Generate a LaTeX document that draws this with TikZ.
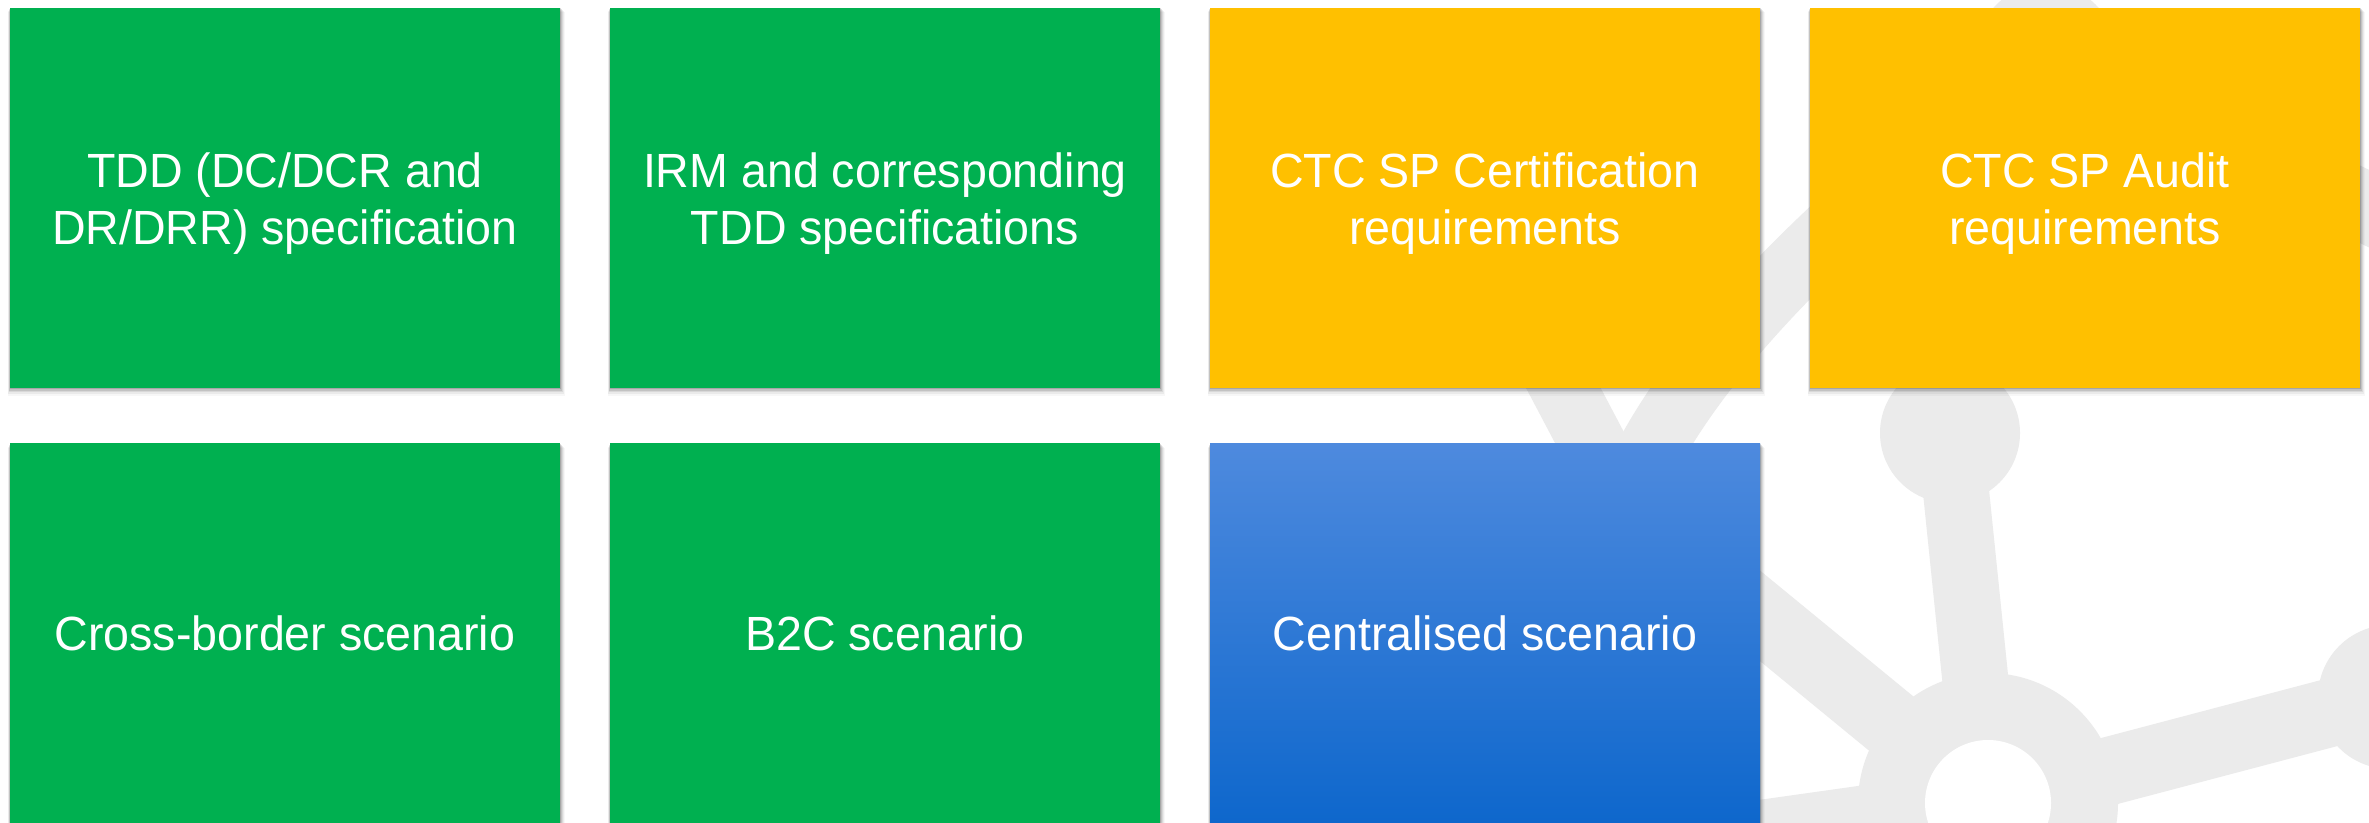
\documentclass[tikz,border=0pt]{standalone}
\usepackage{fontspec}
\newfontfamily\boxfont[FakeStretch=0.97]{Liberation Sans}
\definecolor{boxgreen}{RGB}{0,176,80}
\definecolor{boxyellow}{RGB}{255,192,0}
\definecolor{blueTop}{RGB}{78,138,222}
\definecolor{blueMid}{RGB}{30,122,224}
\definecolor{blueBot}{RGB}{14,103,204}
\definecolor{netgrey}{RGB}{235,235,235}
\newcommand\topstrut{\rule{0pt}{49pt}}
\newcommand\botstrut{\rule[-12pt]{0pt}{12pt}}
\begin{document}
\begin{tikzpicture}[x=1pt,y=-1pt,
  card/.style={rectangle, minimum width=550pt, minimum height=380pt, inner sep=0pt,
    align=center, text=white, font=\boxfont\fontsize{48pt}{56.5pt}\selectfont},
  greencard/.style={card, fill=boxgreen},
  yellowcard/.style={card, fill=boxyellow},
  bluecard/.style={card, top color=blueTop, middle color=blueMid, bottom color=blueBot},
  net/.style={draw=netgrey, line width=66pt},
  netnode/.style={fill=netgrey}]
\useasboundingbox (0,0) rectangle (2369,822);
\clip (0,0) rectangle (2369,822);
\fill[white] (0,0) rectangle (2369,822);

% background network graphic
\coordinate (hub) at (1988,803);
\coordinate (nup) at (1950,433);
\coordinate (nright) at (2390,697);
\coordinate (nmid) at (1625,505);
\coordinate (ntop) at (2046,54);
\coordinate (aend) at (1430,135);
\coordinate (rend) at (2470,257);
\coordinate (lend) at (1300,900);
\draw[net] (hub) -- (nup);
\draw[net, line width=68pt] (hub) -- (nright);
\draw[net, line width=70pt] (hub) -- (nmid);
\draw[net, line width=70pt] (hub) -- (lend);
\draw[net] (nmid) -- (aend);
\draw[net] (nmid) .. controls (1680,360) and (1850,200) .. (ntop);
\draw[net, line width=70pt] (ntop) -- (rend);
\fill[netnode] (nup) circle (70pt);
\fill[netnode] (nright) circle (72pt);
\fill[netnode] (nmid) circle (70pt);
\fill[netnode] (ntop) circle (70pt);
\fill[netnode] (hub) circle (130pt);
\fill[white] (hub) circle (63pt);

% soft shadows
\foreach \x/\y in {10/7, 610/7, 1210/7, 1810/7, 10/443, 610/443, 1210/443} {
  \foreach \k/\o in {1/0.14, 2/0.10, 3/0.07, 4/0.05, 5/0.03} {
    \fill[black, opacity=\o] (\x-\k*0.4, \y+\k*1.0) rectangle (\x+550+\k*1.0, \y+380+\k*1.8);
  }
}

% cards
\node[greencard] (tdd) at (285,197.5) {\topstrut TDD (DC/DCR and\\DR/DRR) specification\botstrut};
\node[greencard] (irm) at (885,197.5) {\topstrut IRM and corresponding\\TDD specifications\botstrut};
\node[yellowcard] (cert) at (1485,197.5) {\topstrut CTC SP Certification\\requirements\botstrut};
\node[yellowcard] (audit) at (2085,197.5) {\topstrut CTC SP Audit\\requirements\botstrut};
\node[greencard] (cross) at (285,633) {Cross-border scenario};
\node[greencard] (b2c) at (885,633) {B2C scenario};
\node[bluecard] (central) at (1485,633) {Centralised scenario};
\end{tikzpicture}
\end{document}
